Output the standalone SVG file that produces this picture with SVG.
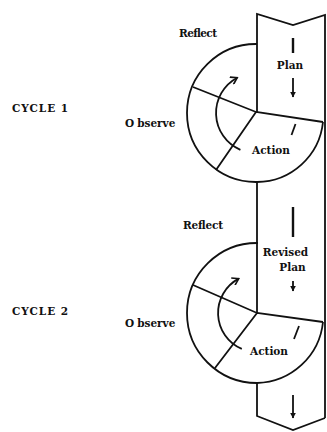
<svg xmlns="http://www.w3.org/2000/svg" width="327" height="432" viewBox="0 0 327 432">
<style>
.ln{fill:none;stroke:#111;stroke-width:1.8;stroke-linejoin:miter}
.th{fill:none;stroke:#111;stroke-width:2.4}
.tx{font-family:"DejaVu Serif","Liberation Serif",serif;font-weight:bold;font-size:10.5px;fill:#111}
</style>
<defs>
<marker id="open" viewBox="0 0 10 10" refX="8" refY="5" markerWidth="9" markerHeight="9" markerUnits="userSpaceOnUse" orient="auto">
<path d="M1,0.5 L8,5 L1,9.5" fill="none" stroke="#111" stroke-width="1.8"/>
</marker>
<marker id="down" viewBox="0 0 10 10" refX="9" refY="5" markerWidth="6" markerHeight="6" markerUnits="userSpaceOnUse" orient="auto">
<path d="M0,0 L10,5 L0,10 Z" fill="#111"/>
</marker>
</defs>
<rect width="327" height="432" fill="#fff"/>
<g id="connectors">
<path id="column" class="ln" d="M325 418 V15 L293 25 L257 14 V112 M257 182 V313 M257 383 V416 L293 430 L325 418"/>
<path class="th" d="M293 38 V53"/>
<path class="ln" d="M293 78 V97" marker-end="url(#down)"/>
<path class="th" d="M293 207 V237"/>
<path class="ln" d="M293 281 V291" marker-end="url(#down)"/>
<path class="ln" d="M293 395 V418" marker-end="url(#down)"/>
</g>
<g id="cycle1">
<path class="ln" d="M257 44 A69 69 0 0 0 187 113 A69 69 0 0 0 257 182 A67 67 0 0 0 323 122"/>
<path class="ln" d="M193 87 L256 112 L323 122 M216 170 L256 112"/>
<path class="ln" d="M240.4 149.8 A40 40 0 0 1 237.2 77.7" marker-end="url(#open)"/>
<path class="ln" d="M295.5 124 L291.5 135"/>
</g>
<g id="cycle2">
<path class="ln" d="M258 243 A70 70 0 0 0 187 313 A70 70 0 0 0 257 383 A68 68 0 0 0 323 322"/>
<path class="ln" d="M193 285 L257 313 L323 322 M215 368 L257 313"/>
<path class="ln" d="M241.8 348.9 A39 39 0 0 1 238.7 278.6" marker-end="url(#open)"/>
<path class="ln" d="M299 326 L294 339"/>
</g>
<g id="labels">
<text class="tx" x="179" y="37" textLength="38">Reflect</text>
<text class="tx" x="290" y="69" text-anchor="middle">Plan</text>
<text class="tx" x="12" y="112" textLength="56">CYCLE 1</text>
<text class="tx" x="125" y="127">O<tspan dx="3">bserve</tspan></text>
<text class="tx" x="252" y="154" textLength="38">Action</text>
<text class="tx" x="183" y="229" textLength="40">Reflect</text>
<text class="tx" x="285.5" y="256" text-anchor="middle">Revised</text>
<text class="tx" x="292.5" y="271" text-anchor="middle">Plan</text>
<text class="tx" x="12" y="315" textLength="56">CYCLE 2</text>
<text class="tx" x="125" y="327">O<tspan dx="3">bserve</tspan></text>
<text class="tx" x="250" y="355" textLength="38">Action</text>
</g>
</svg>
